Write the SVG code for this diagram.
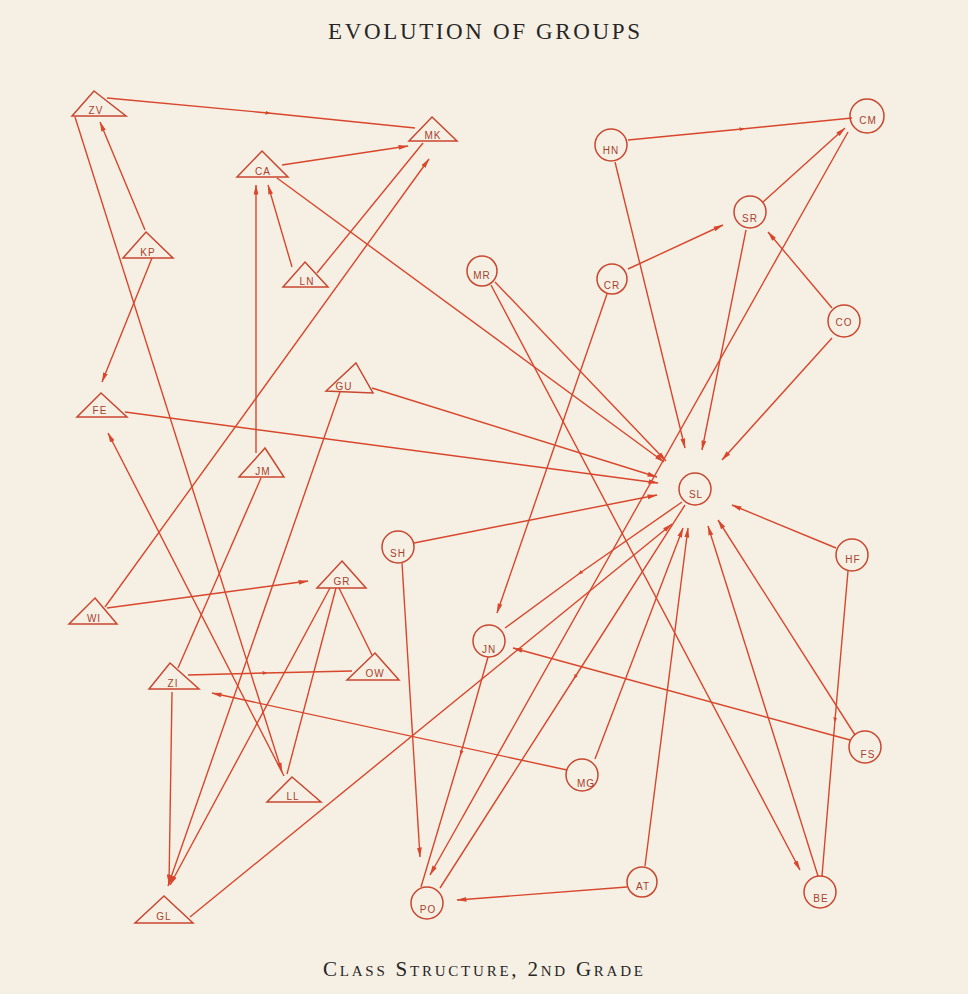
<svg xmlns="http://www.w3.org/2000/svg" width="968" height="994" viewBox="0 0 968 994">
<style>
.bg{fill:#f6f0e4}
.n{fill:none;stroke:#c9462f;stroke-width:1.5}
.e{fill:none;stroke:#d8462c;stroke-width:1.4}
.lb{font-family:"Liberation Sans",Arial,sans-serif;font-size:10px;fill:#a8402e;text-anchor:middle;letter-spacing:1px}
.t{font-family:"Liberation Serif","Times New Roman",serif;fill:#262626;text-anchor:middle}
</style>
<defs>
<marker id="a" markerWidth="10" markerHeight="6" refX="9.5" refY="3" orient="auto" markerUnits="userSpaceOnUse"><path d="M0,0.6 L10,3 L0,5.4 z" fill="#d8462c"/></marker>
<marker id="m" markerWidth="5" markerHeight="4" refX="2.5" refY="2" orient="auto" markerUnits="userSpaceOnUse"><path d="M0,0 L5,2 L0,4 z" fill="#d8462c"/></marker>
</defs>
<rect class="bg" x="0" y="0" width="968" height="994"/>
<text class="t" x="484" y="39" font-size="23" textLength="312" lengthAdjust="spacing">EVOLUTION OF GROUPS</text>
<text class="t" x="483" y="976" font-size="21" textLength="320" lengthAdjust="spacing">C<tspan font-size="15">LASS</tspan> S<tspan font-size="15">TRUCTURE</tspan>, 2<tspan font-size="15">ND</tspan> G<tspan font-size="15">RADE</tspan></text>

<g id="connectors">
<path class="e" d="M107,98 L268,113 L415,128" marker-mid="url(#m)"/>
<path class="e" d="M282,165 L408,146" marker-end="url(#a)"/>
<path class="e" d="M317,273 L423,143"/>
<path class="e" d="M105,607 L429,159" marker-end="url(#a)"/>
<path class="e" d="M292,267 L268,185" marker-end="url(#a)"/>
<path class="e" d="M256,453 L256,185" marker-end="url(#a)"/>
<path class="e" d="M277,178 L664,462" marker-end="url(#a)"/>
<path class="e" d="M145,230 L100,122" marker-end="url(#a)"/>
<path class="e" d="M152,258 L102,382" marker-end="url(#a)"/>
<path class="e" d="M75,117 L282,772" marker-end="url(#a)"/>
<path class="e" d="M284,776 L108,433" marker-end="url(#a)"/>
<path class="e" d="M125,412 L658,483" marker-end="url(#a)"/>
<path class="e" d="M372,388 L657,477" marker-end="url(#a)"/>
<path class="e" d="M340,392 L168,886" marker-end="url(#a)"/>
<path class="e" d="M261,478 L178,668"/>
<path class="e" d="M107,608 L308,581" marker-end="url(#a)"/>
<path class="e" d="M330,588 L170,885" marker-end="url(#a)"/>
<path class="e" d="M336,588 L287,774"/>
<path class="e" d="M339,588 L372,655"/>
<path class="e" d="M188,675 L265,673 L352,671" marker-mid="url(#m)"/>
<path class="e" d="M567,770 L212,693" marker-end="url(#a)"/>
<path class="e" d="M172,692 L169,884" marker-end="url(#a)"/>
<path class="e" d="M190,917 L672,524" marker-end="url(#a)"/>
<path class="e" d="M414,543 L657,495" marker-end="url(#a)"/>
<path class="e" d="M402,563 L420,857" marker-end="url(#a)"/>
<path class="e" d="M488,657 L461,753 L421,887" marker-mid="url(#m)"/>
<path class="e" d="M848,132 L430,875" marker-end="url(#a)"/>
<path class="e" d="M685,505 L575,677 L440,888" marker-mid="url(#m)"/>
<path class="e" d="M627,887 L457,900" marker-end="url(#a)"/>
<path class="e" d="M645,866 L688,528" marker-end="url(#a)"/>
<path class="e" d="M595,759 L683,528" marker-end="url(#a)"/>
<path class="e" d="M818,876 L708,526" marker-end="url(#a)"/>
<path class="e" d="M491,285 L800,870" marker-end="url(#a)"/>
<path class="e" d="M495,282 L666,461" marker-end="url(#a)"/>
<path class="e" d="M628,140 L742,129 L852,118" marker-mid="url(#m)"/>
<path class="e" d="M615,162 L685,448" marker-end="url(#a)"/>
<path class="e" d="M628,269 L723,225" marker-end="url(#a)"/>
<path class="e" d="M763,202 L845,128" marker-end="url(#a)"/>
<path class="e" d="M746,230 L702,450" marker-end="url(#a)"/>
<path class="e" d="M832,308 L768,232" marker-end="url(#a)"/>
<path class="e" d="M832,338 L722,460" marker-end="url(#a)"/>
<path class="e" d="M607,294 L497,613" marker-end="url(#a)"/>
<path class="e" d="M682,502 L580,573 L505,628" marker-mid="url(#m)"/>
<path class="e" d="M850,740 L513,648" marker-end="url(#a)"/>
<path class="e" d="M855,735 L718,520" marker-end="url(#a)"/>
<path class="e" d="M836,548 L732,505" marker-end="url(#a)"/>
<path class="e" d="M848,571 L835,720 L822,876" marker-mid="url(#m)"/>
</g>

<g id="ZV"><polygon class="n" points="94,91 126,116 72,116"/><text class="lb" x="96" y="114">ZV</text></g>
<g id="MK"><polygon class="n" points="432,117 457,141 409,141"/><text class="lb" x="433" y="139">MK</text></g>
<g id="CA"><polygon class="n" points="262,151 288,177 237,177"/><text class="lb" x="263" y="175">CA</text></g>
<g id="KP"><polygon class="n" points="146,232 173,258 123,258"/><text class="lb" x="148" y="256">KP</text></g>
<g id="LN"><polygon class="n" points="305,262 328,287 283,287"/><text class="lb" x="307" y="285">LN</text></g>
<g id="FE"><polygon class="n" points="101,393 127,417 77,417"/><text class="lb" x="100" y="414">FE</text></g>
<g id="GU"><polygon class="n" points="356,363 373,393 326,391"/><text class="lb" x="344" y="390">GU</text></g>
<g id="JM"><polygon class="n" points="265,448 284,477 239,477"/><text class="lb" x="263" y="475">JM</text></g>
<g id="GR"><polygon class="n" points="342,561 366,588 317,588"/><text class="lb" x="342" y="585">GR</text></g>
<g id="WI"><polygon class="n" points="95,598 117,624 69,624"/><text class="lb" x="94" y="622">WI</text></g>
<g id="ZI"><polygon class="n" points="170,663 199,689 149,689"/><text class="lb" x="173" y="687">ZI</text></g>
<g id="OW"><polygon class="n" points="375,653 399,680 347,680"/><text class="lb" x="375" y="677">OW</text></g>
<g id="LL"><polygon class="n" points="292,777 321,802 267,802"/><text class="lb" x="293" y="800">LL</text></g>
<g id="GL"><polygon class="n" points="164,896 193,923 135,923"/><text class="lb" x="164" y="920">GL</text></g>

<g id="HN"><circle class="n" cx="611" cy="145" r="16"/><text class="lb" x="611" y="154">HN</text></g>
<g id="CM"><circle class="n" cx="867" cy="116" r="17"/><text class="lb" x="868" y="124">CM</text></g>
<g id="SR"><circle class="n" cx="750" cy="212" r="16"/><text class="lb" x="750" y="222">SR</text></g>
<g id="MR"><circle class="n" cx="482" cy="271" r="15"/><text class="lb" x="482" y="279">MR</text></g>
<g id="CR"><circle class="n" cx="612" cy="279" r="15"/><text class="lb" x="612" y="289">CR</text></g>
<g id="CO"><circle class="n" cx="844" cy="321" r="16"/><text class="lb" x="844" y="326" font-size="12">CO</text></g>
<g id="SL"><circle class="n" cx="695" cy="489" r="16"/><text class="lb" x="696" y="498">SL</text></g>
<g id="SH"><circle class="n" cx="398" cy="547" r="16"/><text class="lb" x="398" y="557">SH</text></g>
<g id="HF"><circle class="n" cx="852" cy="555" r="16"/><text class="lb" x="853" y="563">HF</text></g>
<g id="JN"><circle class="n" cx="489" cy="641" r="16"/><text class="lb" x="489" y="653">JN</text></g>
<g id="MG"><circle class="n" cx="582" cy="775" r="16"/><text class="lb" x="586" y="787">MG</text></g>
<g id="FS"><circle class="n" cx="865" cy="747" r="16"/><text class="lb" x="868" y="758" font-size="11">FS</text></g>
<g id="AT"><circle class="n" cx="642" cy="882" r="15"/><text class="lb" x="643" y="890">AT</text></g>
<g id="PO"><circle class="n" cx="427" cy="903" r="16"/><text class="lb" x="428" y="913">PO</text></g>
<g id="BE"><circle class="n" cx="820" cy="892" r="16"/><text class="lb" x="821" y="902" font-size="12">BE</text></g>
</svg>
